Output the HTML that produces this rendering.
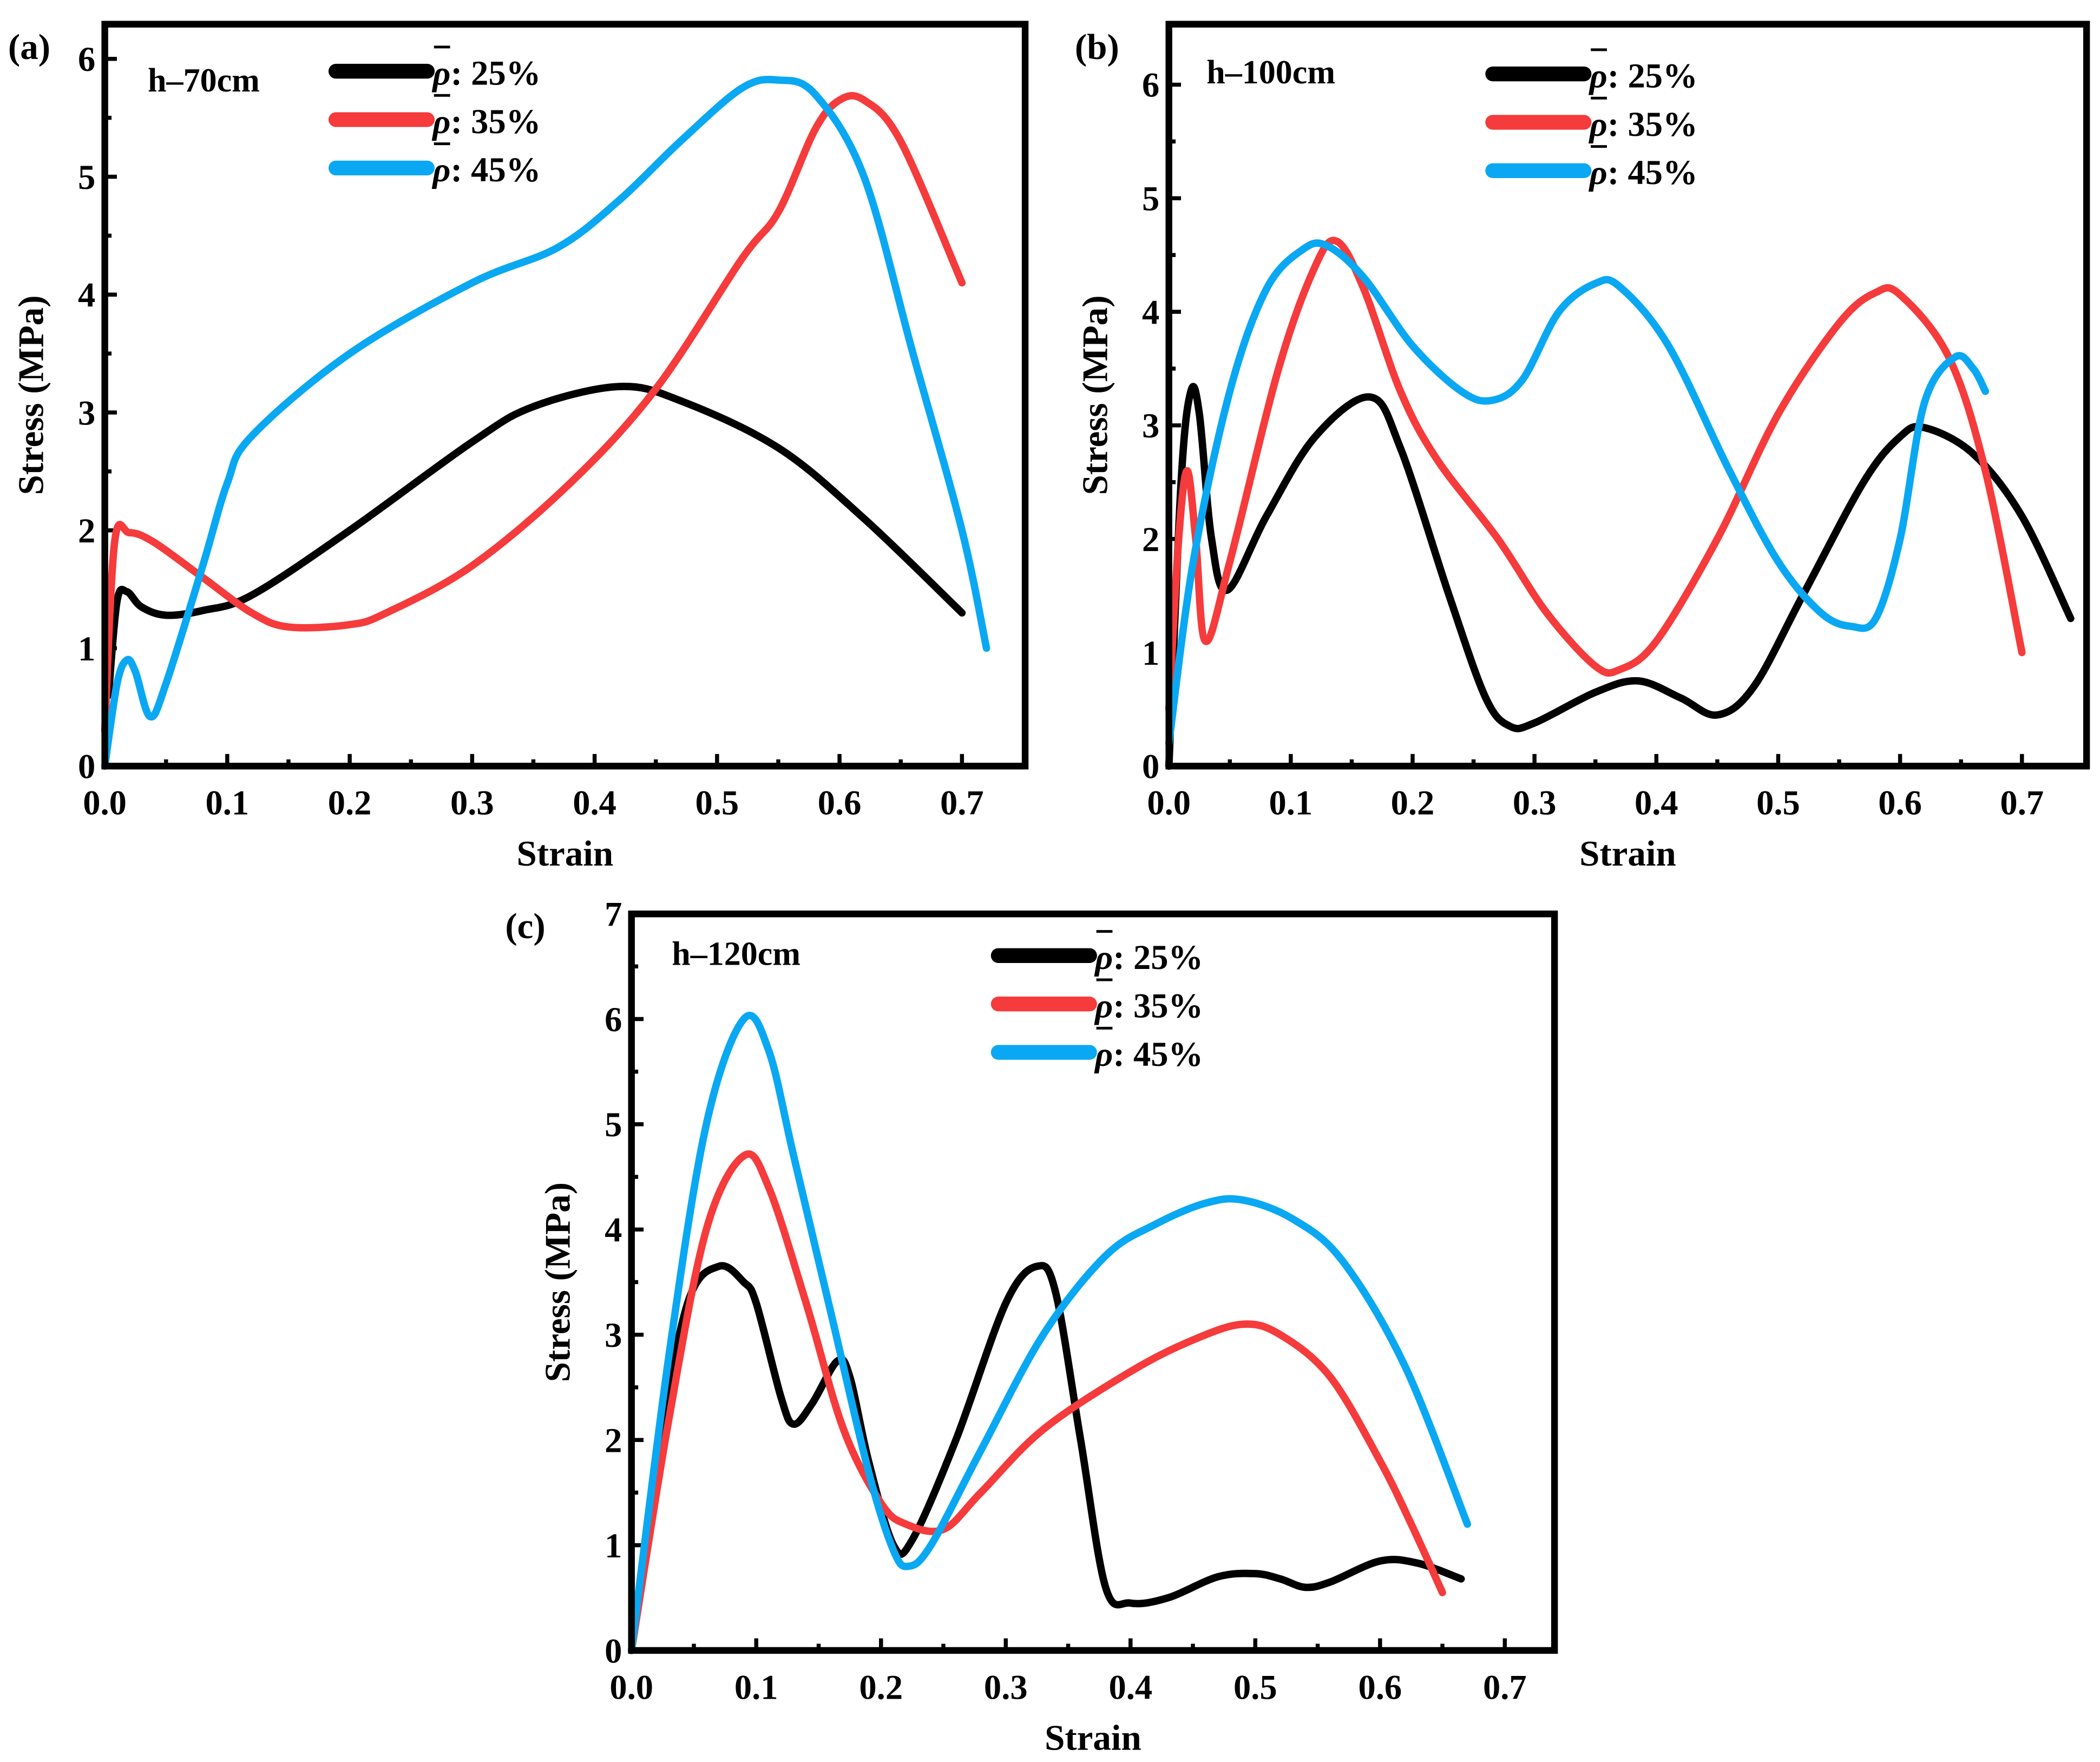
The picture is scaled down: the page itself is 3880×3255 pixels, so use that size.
<!DOCTYPE html>
<html><head><meta charset="utf-8"><style>
html,body{margin:0;padding:0;background:#fff;}
svg{display:block;}
text{font-family:"Liberation Serif",serif;font-weight:bold;fill:#000;}
</style></head><body>
<svg id="fig" width="3880" height="3255" viewBox="0 0 1563 1311" preserveAspectRatio="none" xmlns="http://www.w3.org/2000/svg"></svg>
<script>
// Panel (a) data
const aBlack=[[0.003,0.6],[0.01,1.4],[0.018,1.48],[0.03,1.35],[0.05,1.28],[0.08,1.32],[0.12,1.45],[0.2,2.0],[0.3,2.75],[0.35,3.05],[0.42,3.22],[0.47,3.1],[0.55,2.7],[0.62,2.1],[0.7,1.3]];
const aRed=[[0,0.3],[0.008,1.9],[0.02,1.98],[0.04,1.9],[0.08,1.6],[0.12,1.3],[0.15,1.18],[0.2,1.2],[0.23,1.3],[0.3,1.7],[0.38,2.4],[0.45,3.2],[0.52,4.3],[0.55,4.7],[0.58,5.4],[0.6,5.65],[0.62,5.65],[0.65,5.3],[0.7,4.1]];
const aBlue=[[0,0],[0.01,0.7],[0.018,0.9],[0.025,0.8],[0.037,0.42],[0.05,0.7],[0.08,1.7],[0.1,2.4],[0.12,2.8],[0.2,3.5],[0.3,4.1],[0.37,4.4],[0.42,4.8],[0.47,5.3],[0.52,5.75],[0.55,5.82],[0.58,5.7],[0.62,5.0],[0.66,3.5],[0.7,2.0],[0.72,1.0]];
// Panel (b) data
const bBlack=[[0,0],[0.01,2.5],[0.018,3.3],[0.025,3.1],[0.035,2.0],[0.048,1.55],[0.08,2.2],[0.12,2.9],[0.165,3.25],[0.19,2.8],[0.23,1.5],[0.26,0.6],[0.28,0.35],[0.3,0.38],[0.35,0.65],[0.385,0.75],[0.42,0.6],[0.45,0.45],[0.48,0.7],[0.52,1.5],[0.57,2.5],[0.6,2.9],[0.62,2.98],[0.66,2.75],[0.7,2.2],[0.74,1.3]];
const bRed=[[0,0.5],[0.008,2.0],[0.015,2.6],[0.022,2.0],[0.03,1.1],[0.05,1.8],[0.09,3.5],[0.12,4.4],[0.138,4.62],[0.16,4.2],[0.19,3.3],[0.22,2.7],[0.27,2.0],[0.31,1.35],[0.35,0.88],[0.37,0.85],[0.4,1.1],[0.45,2.0],[0.5,3.1],[0.55,3.9],[0.58,4.17],[0.6,4.15],[0.64,3.6],[0.67,2.6],[0.7,1.0]];
const bBlue=[[0,0.2],[0.02,1.8],[0.05,3.3],[0.08,4.2],[0.11,4.55],[0.13,4.58],[0.16,4.3],[0.2,3.7],[0.24,3.3],[0.265,3.22],[0.29,3.4],[0.32,4.0],[0.35,4.25],[0.37,4.22],[0.41,3.7],[0.46,2.6],[0.5,1.8],[0.535,1.35],[0.56,1.23],[0.58,1.3],[0.6,2.0],[0.62,3.2],[0.645,3.6],[0.66,3.5],[0.67,3.3]];
// Panel (c) data
const cBlack=[[0,0],[0.02,1.8],[0.045,3.3],[0.07,3.65],[0.09,3.5],[0.1,3.3],[0.12,2.4],[0.13,2.15],[0.145,2.35],[0.165,2.75],[0.175,2.6],[0.19,1.8],[0.21,1.0],[0.225,1.05],[0.26,2.0],[0.3,3.3],[0.325,3.65],[0.34,3.4],[0.36,2.0],[0.38,0.6],[0.4,0.45],[0.43,0.5],[0.47,0.7],[0.5,0.73],[0.52,0.68],[0.54,0.6],[0.56,0.65],[0.6,0.85],[0.63,0.83],[0.665,0.68]];
const cRed=[[0,0],[0.03,2.2],[0.06,4.0],[0.09,4.7],[0.11,4.4],[0.14,3.3],[0.17,2.1],[0.2,1.4],[0.22,1.2],[0.25,1.15],[0.28,1.5],[0.33,2.1],[0.4,2.65],[0.45,2.95],[0.49,3.1],[0.52,3.0],[0.56,2.6],[0.6,1.8],[0.625,1.2],[0.65,0.55]];
const cBlue=[[0,0],[0.03,2.8],[0.06,5.0],[0.09,6.0],[0.11,5.7],[0.13,4.7],[0.16,3.2],[0.19,1.7],[0.21,0.95],[0.222,0.8],[0.24,1.0],[0.28,1.9],[0.33,3.0],[0.38,3.75],[0.42,4.05],[0.46,4.25],[0.49,4.28],[0.53,4.1],[0.57,3.7],[0.62,2.7],[0.67,1.2]];
const xTicks=["0.0","0.1","0.2","0.3","0.4","0.5","0.6","0.7"];
const yTicksAB=["0","1","2","3","4","5","6"];
const yTicksC=["0","1","2","3","4","5","6","7"];
const legendLabels=["25%","35%","45%"];

const NS="http://www.w3.org/2000/svg";
const svg=document.getElementById('fig');
const COLORS=["#000000","#f53b3b","#0aa8f2"];
function el(tag,attrs,parent){const e=document.createElementNS(NS,tag);for(const k in attrs)e.setAttribute(k,attrs[k]);(parent||svg).appendChild(e);return e;}
function smooth(pts){let d="M"+pts[0][0]+","+pts[0][1];for(let i=0;i<pts.length-1;i++){const p0=pts[Math.max(0,i-1)],p1=pts[i],p2=pts[i+1],p3=pts[Math.min(pts.length-1,i+2)];const c1=[p1[0]+(p2[0]-p0[0])/6,p1[1]+(p2[1]-p0[1])/6],c2=[p2[0]-(p3[0]-p1[0])/6,p2[1]-(p3[1]-p1[1])/6];d+=" C"+c1[0]+","+c1[1]+" "+c2[0]+","+c2[1]+" "+p2[0]+","+p2[1];}return d;}

function panel(cfg){
  const g=el('g',{});
  
  
  const xs=v=>cfg.x0+v*cfg.xk, ys=v=>cfg.y0-v*cfg.yk;
  xTicks.forEach((t,i)=>{const v=i*0.1,x=xs(v);
    el('line',{x1:x,x2:x,y1:cfg.bottom,y2:cfg.bottom-9,stroke:'#000','stroke-width':3},g);
    const mx=xs(v+0.05); if(mx<cfg.right-5) el('line',{x1:mx,x2:mx,y1:cfg.bottom,y2:cfg.bottom-5,stroke:'#000','stroke-width':3},g);
    const tx=el('text',{x:x,y:cfg.bottom+36,'font-size':26,'text-anchor':'middle'},g);tx.textContent=t;
    
    
  });
  cfg.yt.forEach((t,i)=>{const y=ys(i);
    el('line',{x1:cfg.left,x2:cfg.left+9,y1:y,y2:y,stroke:'#000','stroke-width':3},g);
    const my=ys(i+0.5); if(my>cfg.top+5) el('line',{x1:cfg.left,x2:cfg.left+5,y1:my,y2:my,stroke:'#000','stroke-width':3},g);
    const tx=el('text',{x:cfg.left-7,y:y+9,'font-size':26,'text-anchor':'end'},g);tx.textContent=t;
    
    
  });
  cfg.series.forEach((s,i)=>{
    const p=el('path',{d:smooth(s.map(q=>[xs(q[0]),ys(q[1])])),fill:'none',stroke:COLORS[i],'stroke-width':5.5,'stroke-linecap':'round','stroke-linejoin':'round'},g);
    
    
  });
  const fr=el('rect',{x:cfg.left,y:cfg.top,width:cfg.right-cfg.left,height:cfg.bottom-cfg.top,fill:'none',stroke:'#000','stroke-width':5},g);
  
  
  legendLabels.forEach((l,i)=>{const y=cfg.ly+i*36;
    const ln=el('line',{x1:cfg.lx,x2:cfg.lx+68,y1:y,y2:y,stroke:COLORS[i],'stroke-width':11,'stroke-linecap':'round'},g);
    
    
    const tx=el('text',{x:cfg.lx+72,y:y+10,'font-size':26},g);
    tx.innerHTML='<tspan font-style="italic">ρ</tspan>: '+l;
    
    
    el('line',{x1:cfg.lx+73,x2:cfg.lx+85,y1:y-18,y2:y-18,stroke:'#000','stroke-width':2},g);
  });
  const h=el('text',{x:cfg.hx,y:cfg.hy,'font-size':25},g);h.textContent=cfg.h;
  
  
  const pl=el('text',{x:cfg.px,y:cfg.py,'font-size':27},g);pl.textContent=cfg.lab;
  
  
  const xt=el('text',{x:(cfg.left+cfg.right)/2,y:cfg.bottom+74,'font-size':27,'text-anchor':'middle'},g);xt.textContent='Strain';
  
  
  const cy=(cfg.top+cfg.bottom)/2, cx=cfg.left-46;
  const yt=el('text',{x:cx,y:cy,'font-size':27,'text-anchor':'middle',transform:`rotate(-90 ${cx} ${cy})`},g);yt.textContent='Stress (MPa)';
  
  
}
panel({id:'a',left:78,right:763,top:18,bottom:570,x0:78,xk:911.4,y0:570,yk:87.7,yt:yTicksAB,series:[aBlack,aRed,aBlue],lx:250,ly:53,hx:110,hy:68,h:'h–70cm',px:6,py:44,lab:'(a)'});
panel({id:'b',left:870,right:1553,top:18,bottom:570,x0:870,xk:907,y0:570,yk:84.5,yt:yTicksAB,series:[bBlack,bRed,bBlue],lx:1111,ly:55,hx:898,hy:62,h:'h–100cm',px:800,py:44,lab:'(b)'});
panel({id:'c',left:470,right:1157,top:680,bottom:1228,x0:470,xk:928.6,y0:1228,yk:78.3,yt:yTicksC,series:[cBlack,cRed,cBlue],lx:743,ly:711,hx:500,hy:718,h:'h–120cm',px:376,py:698,lab:'(c)'});
</script>
</body></html>
